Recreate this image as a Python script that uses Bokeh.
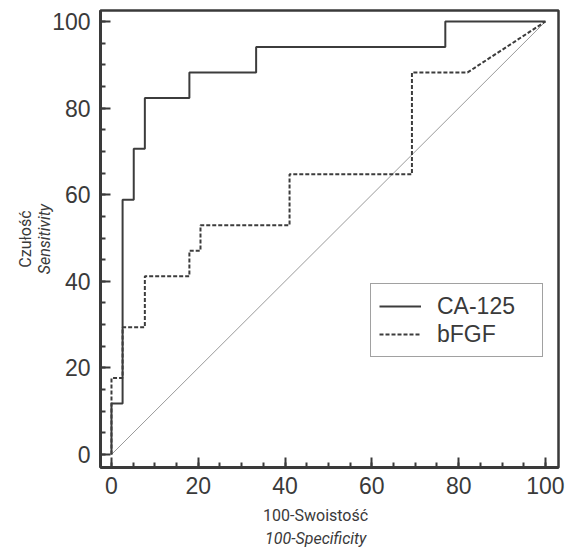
from bokeh.plotting import figure
from bokeh.models import Range1d, SingleIntervalTicker, FixedTicker, Legend, LegendItem, LinearAxis
from bokeh.embed import file_html
from bokeh.resources import INLINE

# ROC data (100-Specificity, Sensitivity)
ca125_fpr = [0, 0, 2.56, 2.56, 5.13, 5.13, 7.69, 7.69, 17.95, 17.95, 33.33, 33.33, 76.92, 76.92, 100]
ca125_tpr = [0, 11.76, 11.76, 58.82, 58.82, 70.59, 70.59, 82.35, 82.35, 88.24, 88.24, 94.12, 94.12, 100, 100]

bfgf_fpr = [0, 0, 2.56, 2.56, 7.69, 7.69, 17.95, 17.95, 20.51, 20.51, 41.03, 41.03, 69.23, 69.23, 82.05, 100]
bfgf_tpr = [0, 17.65, 17.65, 29.41, 29.41, 41.18, 41.18, 47.06, 47.06, 52.94, 52.94, 64.71, 64.71, 88.24, 88.24, 100]

diag_x = [0, 100]
diag_y = [0, 100]

series_names = ["CA-125", "bFGF"]
x_label_pl = "100-Swoistość"
x_label_en = "100-Specificity"
y_label_pl = "Czułość"
y_label_en = "Sensitivity"

DARK = "#3a3a3a"
TICK_FONT = "Liberation Sans"
LABEL_FONT = "Roboto"
LABEL_SIZE = "16px"
PAD = "\u00a0" * 7  # shifts the x labels a little left of the frame centre

p = figure(frame_width=458, frame_height=457,
           min_border_left=100, min_border_right=16, min_border_top=10, min_border_bottom=81,
           x_range=Range1d(-2.53, 103.0), y_range=Range1d(-3.0, 102.54),
           output_backend="svg", toolbar_location=None)

p.grid.visible = False
p.background_fill_color = "white"
p.border_fill_color = "white"
p.outline_line_color = DARK
p.outline_line_width = 2.5

for ax in (p.xaxis[0], p.yaxis[0]):
    ax.ticker = SingleIntervalTicker(interval=20, num_minor_ticks=4)
    ax.axis_line_color = DARK
    ax.axis_line_width = 3
    ax.major_tick_line_color = DARK
    ax.major_tick_line_width = 2
    ax.minor_tick_line_color = DARK
    ax.minor_tick_line_width = 2
    ax.major_tick_in = 10
    ax.major_tick_out = 0
    ax.minor_tick_in = 5
    ax.minor_tick_out = 0
    ax.major_label_text_font = TICK_FONT
    ax.major_label_text_font_size = "23px"
    ax.major_label_text_color = DARK
    ax.axis_label_text_font = LABEL_FONT
    ax.axis_label_text_font_size = LABEL_SIZE
    ax.axis_label_text_color = DARK
p.xaxis.major_label_standoff = 9
p.yaxis.major_label_standoff = 10

p.xaxis[0].axis_label = x_label_pl + PAD
p.xaxis[0].axis_label_text_font_style = "normal"
p.xaxis[0].axis_label_standoff = 9
p.yaxis[0].axis_label = y_label_en
p.yaxis[0].axis_label_text_font_style = "italic"
p.yaxis[0].axis_label_standoff = -5


def label_axis(text, standoff):
    a = LinearAxis(ticker=FixedTicker(ticks=[]), axis_line_color=None,
                   major_tick_line_color=None, minor_tick_line_color=None,
                   major_tick_out=0, major_tick_in=0, minor_tick_out=0, minor_tick_in=0,
                   major_label_text_font_size="0px", major_label_standoff=0,
                   axis_label=text, axis_label_standoff=standoff,
                   axis_label_text_font=LABEL_FONT, axis_label_text_font_size=LABEL_SIZE,
                   axis_label_text_color=DARK)
    return a


ax_en = label_axis(x_label_en + PAD, 1)
ax_en.axis_label_text_font_style = "italic"
p.add_layout(ax_en, "below")
ax_pl = label_axis(y_label_pl, -2)
ax_pl.axis_label_text_font_style = "normal"
p.add_layout(ax_pl, "left")

p.line(diag_x, diag_y, line_color="#9a9a9a", line_width=1)
r_ca = p.line(ca125_fpr, ca125_tpr, line_color="#3c3c3c", line_width=2)
r_bf = p.line(bfgf_fpr, bfgf_tpr, line_color="#3c3c3c", line_width=2, line_dash="4 2")

legend = Legend(items=[LegendItem(label=series_names[0], renderers=[r_ca]),
                       LegendItem(label=series_names[1], renderers=[r_bf])],
                location=(270, 110), margin=0, padding=8, spacing=0,
                glyph_width=42, glyph_height=28, label_height=28, label_width=97,
                label_standoff=16, label_text_font=TICK_FONT, label_text_font_size="23px",
                label_text_color=DARK, border_line_color="#444444", border_line_width=1.5,
                background_fill_color="white", background_fill_alpha=1.0)
p.add_layout(legend, "center")

open("out.html", "w").write(file_html(p, INLINE))
